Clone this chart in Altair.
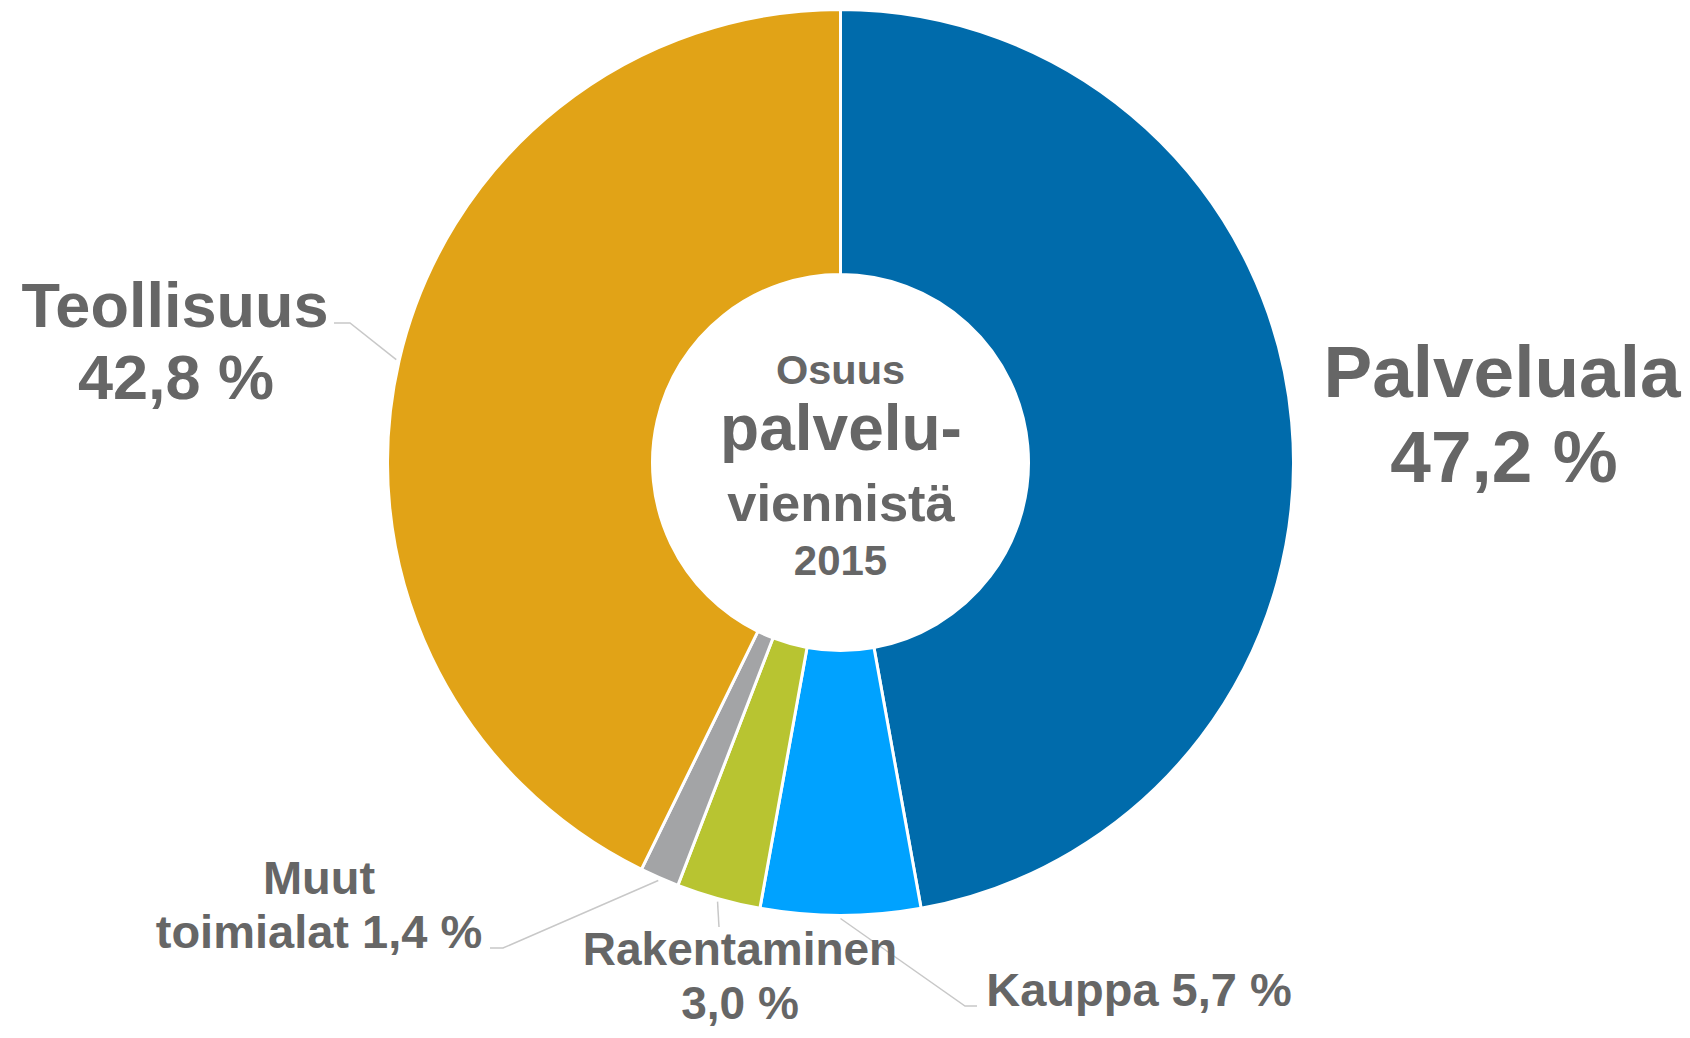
import math
import altair as alt
import pandas as pd

# ---------------- data ----------------
categories = ["Palveluala", "Kauppa", "Rakentaminen", "Muut toimialat", "Teollisuus"]
shares = [47.2, 5.7, 3.0, 1.4, 42.8]
colors = ["#006BAB", "#00A2FF", "#B8C431", "#A3A4A6", "#E1A317"]
label_lines = [
    ["Palveluala", "47,2 %"],
    ["Kauppa 5,7 %"],
    ["Rakentaminen", "3,0 %"],
    ["Muut", "toimialat 1,4 %"],
    ["Teollisuus", "42,8 %"],
]
center_lines = ["Osuus", "palvelu-", "viennistä", "2015"]

# ---------------- layout (canvas pixels) ----------------
W, H = 1674, 1022
CX, CY = 832.5, 454.5
R_OUT, R_IN = 453, 188
TEXT_COLOR = "#666666"
LEADER_COLOR = "#C8C8C8"
FONT = "Liberation Sans, Arial, Helvetica, sans-serif"

# per-label text line positions: (x center, baseline y, font size)
label_layout = [
    [(1494, 389, 73), (1496, 474, 73)],
    [(1131, 998, 47)],
    [(732, 957, 46), (732, 1011, 46)],
    [(311, 886, 47), (311, 940, 47)],
    [(167, 319, 63), (168, 391, 63)],
]
# leader lines: list of bend/end points after the start on the ring (None = no leader)
leader_layout = [
    None,
    [(957, 998), (969, 998)],
    [(711, 919)],
    [(495, 940), (482, 940)],
    [(342, 315), (326, 315)],
]
center_layout = [(832.5, 376, 41.5), (833, 442, 64), (833, 512.5, 52.5), (832.5, 566.5, 42)]

# ---------------- tables ----------------
arc_df = pd.DataFrame({"cat": categories, "share": shares, "idx": range(len(categories))})

total = sum(shares)
leader_rows = []
cum = 0.0
for i, (cat, v) in enumerate(zip(categories, shares)):
    mid = (cum + v / 2) / total * 2 * math.pi
    cum += v
    pts = leader_layout[i]
    if pts is None:
        continue
    sx = CX + (R_OUT + 3) * math.sin(mid)
    sy = CY - (R_OUT + 3) * math.cos(mid)
    leader_rows.append({"cat": cat, "ord": 0, "x": sx, "y": sy})
    for k, (px, py) in enumerate(pts):
        leader_rows.append({"cat": cat, "ord": k + 1, "x": px, "y": py})
leader_df = pd.DataFrame(leader_rows)

text_rows = []
for lines, pos in zip(label_lines, label_layout):
    for t, (x, y, s) in zip(lines, pos):
        text_rows.append({"t": t, "x": x, "y": y, "s": s})
for t, (x, y, s) in zip(center_lines, center_layout):
    text_rows.append({"t": t, "x": x, "y": y, "s": s})
text_df = pd.DataFrame(text_rows)

xs = alt.Scale(domain=[0, W], range=[0, W], nice=False, zero=False)
ys = alt.Scale(domain=[0, H], range=[0, H], nice=False, zero=False)

arcs = alt.Chart(arc_df).mark_arc(
    innerRadius=R_IN, outerRadius=R_OUT, stroke="white", strokeWidth=3
).encode(
    theta=alt.Theta("share:Q", stack=True),
    order=alt.Order("idx:Q"),
    color=alt.Color("cat:N", scale=alt.Scale(domain=categories, range=colors), legend=None),
    x=alt.value(CX),
    y=alt.value(CY),
)

leaders = alt.Chart(leader_df).mark_line(color=LEADER_COLOR, strokeWidth=1.5).encode(
    x=alt.X("x:Q", scale=xs, axis=None),
    y=alt.Y("y:Q", scale=ys, axis=None),
    detail="cat:N",
    order="ord:Q",
)

texts = alt.Chart(text_df).mark_text(
    align="center", baseline="alphabetic", font=FONT, fontWeight="bold", color=TEXT_COLOR
).encode(
    x=alt.X("x:Q", scale=xs, axis=None),
    y=alt.Y("y:Q", scale=ys, axis=None),
    text="t:N",
    size=alt.Size("s:Q", scale=None, legend=None),
)

chart = alt.layer(arcs, leaders, texts).properties(
    width=W, height=H, autosize=alt.AutoSizeParams(type="none"), padding=0
).configure_view(stroke=None)

chart.save("out.html", embed_options={"renderer": "svg", "actions": False})
